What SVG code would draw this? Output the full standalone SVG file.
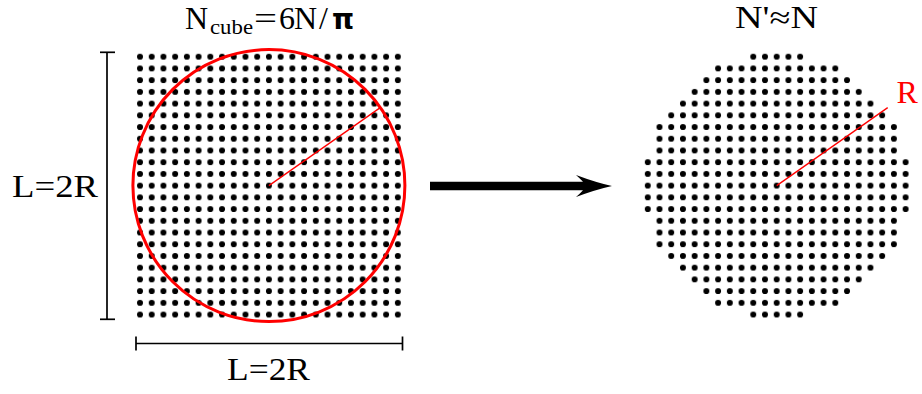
<svg xmlns="http://www.w3.org/2000/svg" width="922" height="394" viewBox="0 0 922 394">
<style>
.t{font-family:"Liberation Serif","DejaVu Serif",serif;font-size:32px;fill:#000}
.red{stroke:#ff0000;fill:none}
.bar{stroke:#000;stroke-width:1.7;fill:none}
</style>
<defs>
<pattern id="dots" patternUnits="userSpaceOnUse" x="0" y="0" width="11.72" height="11.72">
<circle cx="5.86" cy="5.86" r="3" fill="#000"/>
</pattern>
</defs>
<rect width="922" height="394" fill="#fff"/>

<g id="cube">
<g transform="translate(134.14,50.84)">
<rect x="0" y="0" width="269.56" height="269.56" fill="url(#dots)"/>
</g>
<circle class="red" cx="268.9" cy="185.6" r="136" stroke-width="3"/>
<line class="red" x1="268.9" y1="185.6" x2="379.9" y2="107.9" stroke-width="1.3"/>
</g>

<g id="title-left">
<text class="t" x="185" y="28.8">N</text>
<text class="t" x="210" y="34" style="font-size:22px" textLength="43" lengthAdjust="spacingAndGlyphs">cube</text>
<text class="t" x="254" y="28.8" textLength="23" lengthAdjust="spacingAndGlyphs">=</text>
<text class="t" x="279" y="28.8">6</text>
<text class="t" x="294" y="28.8">N</text>
<text class="t" x="319" y="28.8">/</text>
<text x="332" y="28.8" style="font-family:'DejaVu Sans',sans-serif;font-weight:bold;font-size:28px">π</text>
</g>

<g id="bar-vertical">
<line class="bar" x1="107" y1="52.3" x2="107" y2="319.3"/>
<line class="bar" x1="100" y1="52.3" x2="115" y2="52.3"/>
<line class="bar" x1="100" y1="319.3" x2="115" y2="319.3"/>
<text class="t" x="12" y="196.7" textLength="86" lengthAdjust="spacingAndGlyphs">L=2R</text>
</g>

<g id="bar-horizontal">
<line class="bar" x1="136" y1="343.5" x2="402.5" y2="343.5"/>
<line class="bar" x1="136" y1="336.5" x2="136" y2="350.5"/>
<line class="bar" x1="402.5" y1="336.5" x2="402.5" y2="350.5"/>
<text class="t" x="227" y="380" textLength="83" lengthAdjust="spacingAndGlyphs">L=2R</text>
</g>

<g id="connectors">
<path d="M430,181.8 H583 Q580,178.5 576,175 Q596,182.5 612,186 Q596,189.5 576,197 Q580,193.5 583,190.2 H430 Z" fill="#000"/>
</g>

<g id="sphere">
<g transform="translate(641.92,50.82)" fill="url(#dots)">
<rect x="105.48" y="0" width="58.6" height="11.72"/>
<rect x="70.32" y="11.72" width="128.92" height="11.72"/>
<rect x="58.6" y="23.44" width="152.36" height="11.72"/>
<rect x="46.88" y="35.16" width="175.8" height="11.72"/>
<rect x="35.16" y="46.88" width="199.24" height="11.72"/>
<rect x="23.44" y="58.6" width="222.68" height="11.72"/>
<rect x="11.72" y="70.32" width="246.12" height="35.16"/>
<rect x="0" y="105.48" width="269.56" height="58.6"/>
<rect x="11.72" y="164.08" width="246.12" height="35.16"/>
<rect x="23.44" y="199.24" width="222.68" height="11.72"/>
<rect x="35.16" y="210.96" width="199.24" height="11.72"/>
<rect x="46.88" y="222.68" width="175.8" height="11.72"/>
<rect x="58.6" y="234.4" width="152.36" height="11.72"/>
<rect x="70.32" y="246.12" width="128.92" height="11.72"/>
<rect x="105.48" y="257.84" width="58.6" height="11.72"/>
</g>
<line class="red" x1="776.7" y1="185.6" x2="887.7" y2="107.6" stroke-width="1.3"/>
<text class="t" x="896.5" y="103.3" style="fill:#ff0000">R</text>
</g>

<g id="title-right">
<text class="t" x="735" y="28" style="font-size:31px" textLength="83" lengthAdjust="spacingAndGlyphs">N'≈N</text>
</g>
</svg>
